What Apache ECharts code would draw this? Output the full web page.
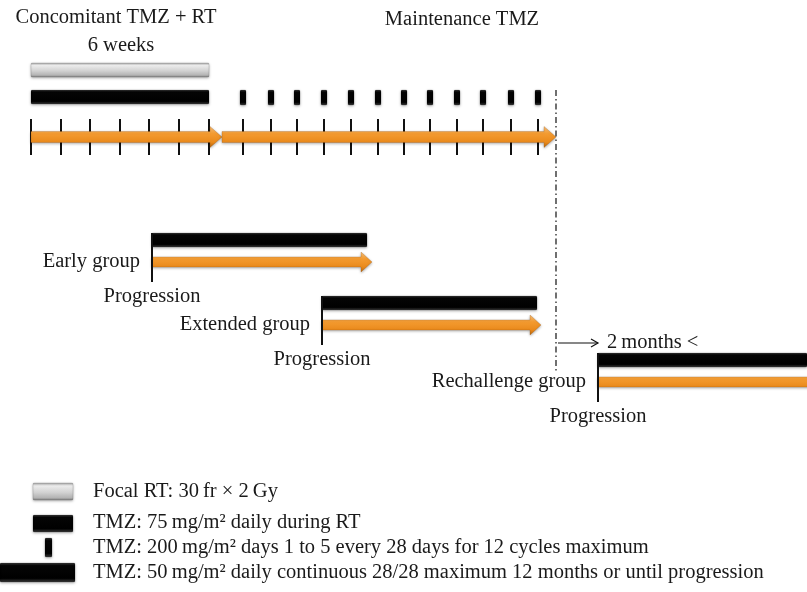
<!DOCTYPE html>
<html>
<head>
<meta charset="utf-8">
<script src="https://cdn.jsdelivr.net/npm/echarts@6/dist/echarts.min.js"></script>
<style>
html, body { margin: 0; padding: 0; background: #fff; }
#main { width: 807px; height: 592px; }
</style>
</head>
<body>
<div id="main"></div>
<script>
var myChart = echarts.init(document.getElementById('main'));

// schematic timeline (chart units: x to the right, y downwards)
var weekTicks = [31, 61, 90, 120, 149, 179, 209];
var cycleTicks = [243, 271, 297, 324, 351, 378, 404, 430, 457, 483, 511, 538];
var rtPhase = [31, 209];
var timelineSegments = [[31, 222], [222, 556]];
var treatmentEnd = 556;

var groupNames = ['Early group', 'Extended group', 'Rechallenge group'];
var groupStart = [152, 322, 598];
var groupBarEnd = [367, 537, 807];
var groupArrowEnd = [372, 541, 840];
var groupRow = [233, 296, 353];

var headTexts = ['Concomitant TMZ + RT', '6 weeks', 'Maintenance TMZ', '2\u2009months <'];
var headPos = [[116, 18], [121, 46], [462, 20], [607, 343]];
var headAlign = ['center', 'center', 'center', 'left'];

var legendTexts = [
    'Focal RT: 30\u2009fr \u00d7 2\u2009Gy',
    'TMZ: 75\u2009mg/m\u00b2 daily during RT',
    'TMZ: 200\u2009mg/m\u00b2 days 1 to 5 every 28 days for 12 cycles maximum',
    'TMZ: 50\u2009mg/m\u00b2 daily continuous 28/28 maximum 12 months or until progression'
];
var legendRows = [492, 523, 548, 573];

var FONT = '20.5px "Liberation Serif", "DejaVu Serif", serif';

function grayFill() {
    return new echarts.graphic.LinearGradient(0, 0, 0, 1, [
        {offset: 0, color: '#a0a0a0'},
        {offset: 0.18, color: '#ececec'},
        {offset: 0.55, color: '#d2d2d2'},
        {offset: 0.85, color: '#b4b4b4'},
        {offset: 1, color: '#7c7c7c'}
    ]);
}
function blackFill() {
    return new echarts.graphic.LinearGradient(0, 0, 0, 1, [
        {offset: 0, color: '#3a3a3a'},
        {offset: 0.15, color: '#050505'},
        {offset: 0.8, color: '#000'},
        {offset: 1, color: '#3c3c3c'}
    ]);
}
function orangeFill() {
    return new echarts.graphic.LinearGradient(0, 0, 0, 1, [
        {offset: 0, color: '#f9c27c'},
        {offset: 0.35, color: '#f49b30'},
        {offset: 0.75, color: '#e9891b'},
        {offset: 1, color: '#b9680f'}
    ]);
}
var shadow = {shadowBlur: 3, shadowColor: 'rgba(0,0,0,0.35)', shadowOffsetY: 1};

function bar(api, x0, x1, y0, y1, fill) {
    var a = api.coord([x0, y0]), b = api.coord([x1, y1]);
    return {
        type: 'rect',
        shape: {x: a[0], y: a[1], width: b[0] - a[0], height: b[1] - a[1], r: 1},
        style: echarts.util.extend({fill: fill, stroke: 'rgba(0,0,0,0.25)', lineWidth: 0.5}, shadow)
    };
}
function arrow(api, x0, tip, cy, shaft, head, len) {
    var p = function (x, y) { return api.coord([x, y]); };
    return {
        type: 'polygon',
        shape: {points: [
            p(x0, cy - shaft / 2), p(tip - len, cy - shaft / 2), p(tip - len, cy - head / 2),
            p(tip, cy), p(tip - len, cy + head / 2), p(tip - len, cy + shaft / 2), p(x0, cy + shaft / 2)
        ]},
        style: echarts.util.extend({fill: orangeFill(), stroke: 'rgba(150,80,10,0.5)', lineWidth: 0.5}, shadow)
    };
}
function vline(api, x, y0, y1, w, dash) {
    var a = api.coord([x, y0]), b = api.coord([x, y1]);
    return {
        type: 'line',
        shape: {x1: a[0], y1: a[1], x2: b[0], y2: b[1]},
        style: {stroke: '#111', lineWidth: w, lineDash: dash || null}
    };
}
function label(api, x, y, text, align) {
    var c = api.coord([x, y]);
    return {
        type: 'text',
        x: c[0], y: c[1],
        style: {text: text, font: FONT, fill: '#1a1a1a', align: align, verticalAlign: 'middle',
                textAlign: align, textVerticalAlign: 'middle'}
    };
}

option = {
    animation: false,
    grid: {left: 0, right: 0, top: 0, bottom: 0},
    xAxis: {type: 'value', min: 0, max: 807, show: false},
    yAxis: {type: 'value', min: 0, max: 592, inverse: true, show: false},
    series: [
        {   // week and cycle ticks
            type: 'custom', clip: false,
            data: weekTicks.concat(cycleTicks).map(function (x) { return [x, 137]; }),
            renderItem: function (params, api) {
                return vline(api, api.value(0), 119, 155, 2);
            }
        },
        {   // main timeline arrows
            type: 'custom', clip: false,
            data: timelineSegments.map(function (s) { return [s[0], s[1]]; }),
            renderItem: function (params, api) {
                return arrow(api, api.value(0), api.value(1), 137, 11, 21, 12);
            }
        },
        {   // focal RT and daily TMZ during RT
            type: 'custom', clip: false,
            data: [rtPhase],
            renderItem: function (params, api) {
                return {type: 'group', children: [
                    bar(api, api.value(0), api.value(1), 63, 77, grayFill()),
                    bar(api, api.value(0), api.value(1), 90, 104, blackFill())
                ]};
            }
        },
        {   // maintenance cycles 1-12
            type: 'custom', clip: false,
            data: cycleTicks.map(function (x) { return [x, 97]; }),
            renderItem: function (params, api) {
                var x = api.value(0);
                return bar(api, x - 3, x + 3, 90, 105, blackFill());
            }
        },
        {   // end of maintenance, and the 2 month interval arrow
            type: 'custom', clip: false,
            data: [[treatmentEnd, groupStart[2]]],
            renderItem: function (params, api) {
                var x = api.value(0), x2 = api.value(1);
                var a = api.coord([x + 2, 343]), b = api.coord([x2, 343]);
                return {type: 'group', children: [
                    vline(api, x, 90, 372, 1.2, [6, 3, 1.5, 3]),
                    {type: 'line', shape: {x1: a[0], y1: a[1], x2: b[0], y2: b[1]},
                     style: {stroke: '#111', lineWidth: 1.2}},
                    {type: 'polyline', shape: {points: [[b[0] - 7, b[1] - 4], [b[0], b[1]], [b[0] - 7, b[1] + 4]]},
                     style: {stroke: '#111', lineWidth: 1.2, fill: null}}
                ]};
            }
        },
        {   // groups after progression
            type: 'custom', clip: false,
            data: groupStart.map(function (s, i) { return [s, groupBarEnd[i], groupArrowEnd[i], groupRow[i]]; }),
            renderItem: function (params, api) {
                var s = api.value(0), e = api.value(1), t = api.value(2), r = api.value(3);
                return {type: 'group', children: [
                    bar(api, s, e, r, r + 14, blackFill()),
                    arrow(api, s, t, r + 29, 10, 20, 11),
                    vline(api, s, r, r + 49, 2),
                    label(api, s - 12, r + 29, groupNames[params.dataIndex], 'right'),
                    label(api, s, r + 64, 'Progression', 'center')
                ]};
            }
        },
        {   // headings
            type: 'custom', clip: false,
            data: headPos,
            renderItem: function (params, api) {
                var i = params.dataIndex;
                return label(api, api.value(0), api.value(1), headTexts[i], headAlign[i]);
            }
        },
        {   // legend
            type: 'custom', clip: false,
            data: legendRows.map(function (y) { return [93, y]; }),
            renderItem: function (params, api) {
                var i = params.dataIndex, y = api.value(1), icon;
                if (i === 0) icon = bar(api, 33, 73, y - 9, y + 8, grayFill());
                else if (i === 1) icon = bar(api, 33, 73, y - 8, y + 9, blackFill());
                else if (i === 2) icon = bar(api, 45, 52, y - 10, y + 9, blackFill());
                else icon = bar(api, 0, 75, y - 10, y + 9, blackFill());
                return {type: 'group', children: [
                    icon,
                    label(api, api.value(0), y, legendTexts[i], 'left')
                ]};
            }
        }
    ]
};

myChart.setOption(option);
</script>
</body>
</html>
